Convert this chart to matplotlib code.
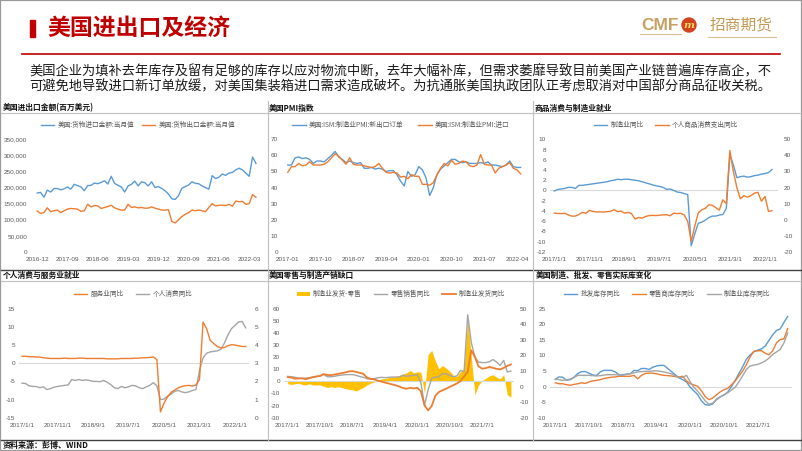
import matplotlib
matplotlib.use('Agg')
import matplotlib.pyplot as plt
from matplotlib.patches import Rectangle, Ellipse, Patch
from matplotlib.lines import Line2D
import numpy as np

plt.rcParams['font.family'] = ['Noto Sans CJK SC', 'DejaVu Sans']

# ---- data ----
p1_ticks = ['2016-12', '2017-09', '2018-06', '2019-03', '2019-12', '2020-09', '2021-06', '2022-03']
p1_import = [183, 185, 170, 192, 186, 197, 197, 193, 196, 202,
             195, 210, 206, 202, 190, 206, 207, 214, 212, 216,
             221, 211, 235, 213, 207, 202, 186, 205, 210, 220,
             205, 218, 215, 205, 218, 200, 203, 197, 190, 180,
             165, 163, 175, 198, 203, 208, 218, 213, 212, 205,
             200, 195, 237, 228, 232, 242, 238, 245, 247, 255,
             260, 255, 245, 235, 295, 275]
p1_export = [127, 120, 122, 137, 125, 128, 130, 122, 128, 133,
             135, 134, 133, 126, 128, 148, 140, 144, 143, 135,
             138, 141, 145, 137, 133, 130, 130, 148, 138, 140,
             137, 138, 136, 136, 140, 136, 133, 130, 130, 131,
             95, 90, 100, 110, 117, 122, 130, 128, 130, 128,
             125, 138, 150, 143, 145, 145, 144, 148, 142, 158,
             156, 157, 148, 150, 178, 170]

p2_ticks = ['2017-01', '2017-10', '2018-07', '2019-04', '2020-01', '2020-10', '2021-07', '2022-04']
p2_export_orders = [54, 54, 58.5, 59, 58, 58.5, 57.5, 55, 56.5, 56.5,
                    56, 58, 60, 62.5, 59, 57.5, 55.5, 56.5, 55.5, 55,
                    55.5, 52, 52, 52.5, 51.5, 52, 51.5, 50, 50.5, 50.5,
                    48, 44, 41, 50, 47, 48, 53, 51, 46, 35,
                    40, 48, 51.5, 53.5, 55.5, 57.5, 57.5, 56, 55.5, 56,
                    55, 55, 55, 55.5, 55, 56, 54, 54, 53.5, 53,
                    54, 56.5, 53, 52.5, 52.5]
p2_imports = [49.5, 53, 53, 55, 53.5, 54, 56, 54, 54, 54,
              54.5, 56, 58.5, 61, 59.5, 57, 54.5, 58.5, 54.5, 54,
              54, 53.5, 53, 52.5, 53, 55, 52, 49.5, 49, 49.5,
              49, 46.5, 47, 45.5, 48, 47, 47, 42, 42, 41.5,
              43, 48, 52, 55, 53.5, 57, 54.5, 55, 56.5, 56,
              53.5, 53, 54, 60.5, 54.5, 54, 54, 49, 52, 53,
              54, 55.5, 52, 51, 48.5]

p34_ticks = ['2017/1/1', '2017/11/1', '2018/9/1', '2019/7/1', '2020/5/1', '2021/3/1', '2022/1/1']
p3_mfg_emp = [-0.1, 0.2, 0.3, 0.4, 0.6, 0.6, 0.4, 1.0, 1.0, 1.1,
              1.2, 1.3, 1.4, 1.5, 1.6, 1.7, 1.9, 2.0, 2.2, 2.1,
              2.2, 2.2, 2.1, 2.0, 1.9, 1.7, 1.5, 1.3, 1.1, 0.9,
              0.8, 0.6, 0.2, 0.3, 0.0, -0.3, -0.4, -0.6, -0.8, -10.8,
              -8.5, -6.4, -6.2, -5.8, -5.3, -5.0, -5.0, -4.8, -4.7, -3.5,
              7.0, 5.0, 2.5, 2.7, 2.8, 2.6, 2.7, 2.9, 3.0, 3.2,
              3.3, 3.5, 4.1]
p3_goods_pce = [4.1, 3.9, 3.8, 4.0, 3.0, 2.2, 2.3, 3.2, 4.6, 4.0,
                5.8, 5.2, 4.8, 4.9, 4.8, 5.0, 5.2, 6.2, 5.0, 5.4,
                4.1, 4.6, 3.8, 0.4, 1.4, 1.0, 2.0, 2.6, 2.7, 2.6,
                2.8, 3.0, 3.1, 2.5, 4.1, 3.8, 4.0, 3.0, -1.0, -13.4,
                -4.0, 4.1, 6.2, 7.0, 9.3, 9.0, 7.5, 6.0, 12.4, 10.0,
                43.0, 30.0, 20.0, 13.0, 15.0, 14.0, 15.0, 16.5, 17.0, 11.5,
                14.5, 5.2, 5.6]

p4_services = [1.9, 1.9, 1.8, 1.8, 1.7, 1.7, 1.5, 1.4, 1.3, 1.3,
               1.3, 1.3, 1.4, 1.3, 1.3, 1.3, 1.4, 1.4, 1.3, 1.3,
               1.3, 1.3, 1.3, 1.3, 1.2, 1.2, 1.2, 1.2, 1.3, 1.3,
               1.3, 1.3, 1.4, 1.4, 1.5, 1.5, 1.6, 1.7, 1.0, -13.4,
               -11.0, -9.3, -8.0, -7.4, -6.8, -6.4, -6.2, -6.1, -6.3, -6.0,
               -4.5, 11.3, 9.5, 6.3, 5.4, 4.6, 4.2, 4.3, 4.8, 5.1,
               5.0, 4.8, 4.6, 4.6]
p4_consumption = [1.90, 1.88, 1.75, 1.72, 1.72, 1.65, 1.70, 1.55, 1.60, 1.68,
                  1.72, 1.75, 1.78, 1.80, 2.10, 2.05, 2.10, 2.05, 2.08, 2.05,
                  2.00, 2.00, 1.98, 2.05, 1.95, 1.82, 1.65, 1.60, 1.72, 1.65,
                  1.70, 1.78, 1.75, 1.65, 1.60, 1.70, 1.78, 1.93, 1.75, 1.00,
                  1.02, 1.19, 1.30, 1.45, 1.50, 1.42, 1.38, 1.42, 1.50, 1.55,
                  2.60, 3.30, 3.55, 3.62, 3.65, 3.68, 3.76, 4.10, 4.55, 4.90,
                  5.08, 5.27, 5.30, 4.95]

p56_ticks = ['2017/1/1', '2017/10/1', '2018/7/1', '2019/4/1', '2020/1/1', '2020/10/1', '2021/7/1']
p5_gap = [-2, -2.5, -2, -1.5, -2.5, -3, -2, -3, -3, -3,
          -4, -5, -4.5, -5, -4.5, -5, -6, -6.5, -7, -8,
          -6.5, -5, -3, -1.5, -0.5, 1, 2, 2.5, 3, 3.5,
          4, 5, 6, 7, 9, 7, 8, 7.5, -10, 22,
          25.6, 17, 10.5, 13, 11, 8.5, 5, 4, 8, 10,
          52, 20, -11, -3, 0.5, 2.5, 4.5, 5.5, 3.5, 2,
          5.5, -11, -13]
p5_retail = [4.1, 3.8, 3.4, 2.6, 2.4, 2.7, 3.0, 3.5, 4.0, 4.4,
             5.8, 3.8, 3.8, 4.2, 4.8, 5.2, 5.5, 5.6, 5.6, 5.0,
             4.0, 3.4, 2.2, 1.8, 2.2, 3.0, 3.3, 3.1, 3.3, 3.6,
             3.6, 3.6, 5.0, 4.2, 4.6, 5.0, 5.5, -1.0, -20.0, -7.0,
             2.5, 3.5, 4.0, 6.3, 6.2, 5.0, 3.8, 4.5, 9.0, 8.0,
             55.0, 32.0, 20.0, 16.0, 15.5, 15.5, 16.2, 18.0, 16.0, 13.2,
             17.3, 7.7, 8.5]
p5_shipments = [6.1, 5.8, 5.0, 5.2, 5.3, 4.7, 5.4, 6.0, 6.5, 6.8,
                8.0, 7.4, 7.4, 7.7, 8.2, 8.6, 9.1, 9.7, 9.9, 9.4,
                8.8, 8.2, 5.8, 5.0, 4.6, 3.8, 3.2, 2.6, 2.0, 1.4,
                0.8, 0.0, -0.9, -1.4, -0.8, -1.2, -0.8, -3.0, -12.0, -15.3,
                -12.5, -6.0, -3.5, -2.4, -1.4, -0.2, 0.9, 2.0, 3.5, 6.5,
                9.5, 23.3, 19.0, 13.0, 11.5, 11.8, 12.6, 12.0, 11.4, 11.0,
                12.0, 13.3, 14.2]

p6_wholesale = [2.3, 3.1, 3.0, 2.0, 2.2, 3.0, 4.2, 4.8, 4.8, 4.3,
                3.7, 3.6, 4.7, 5.2, 5.2, 5.2, 4.7, 3.8, 3.8, 4.0,
                4.1, 5.2, 5.1, 5.8, 5.8, 5.5, 6.2, 6.6, 6.8, 6.8,
                5.8, 4.8, 3.8, 2.8, 2.2, 1.5, -0.2, -1.4, -2.6, -4.6,
                -5.8, -6.0, -5.6, -4.0, -3.3, -2.7, -1.8, 0.0, 2.0, 4.2,
                6.4, 8.8, 10.2, 11.2, 11.7, 12.1, 13.0, 14.8, 16.6, 18.0,
                18.5, 20.6, 22.5]
p6_retailer = [1.2, 0.9, 0.9, 0.6, 0.4, 0.7, 0.9, 1.2, 1.0, 1.5,
               1.8, 2.0, 2.2, 2.6, 2.8, 3.0, 3.1, 3.3, 3.3, 3.3,
               3.3, 3.6, 2.5, 3.6, 4.2, 4.3, 4.3, 4.1, 3.8, 3.6,
               3.5, 3.4, 3.2, 3.1, 3.3, 1.8, 0.9, 0.5, 0.1, -1.4,
               -3.2, -4.2, -3.7, -2.7, -1.7, -1.0, -0.6, 0.6, 1.8, 3.4,
               5.0, 7.1, 9.6, 11.3, 11.5, 11.5, 10.7, 10.2, 11.5, 14.0,
               15.1, 15.3, 18.6]
p6_manufacturing = [2.5, 2.2, 2.0, 2.2, 2.4, 2.9, 3.6, 3.6, 3.6, 3.6,
                    3.5, 3.4, 3.5, 3.7, 3.8, 3.8, 3.8, 3.7, 3.6, 3.9,
                    4.1, 4.4, 4.7, 4.8, 4.9, 4.9, 5.0, 5.1, 4.9, 4.7,
                    4.4, 4.1, 3.4, 2.8, 3.0, 3.6, 1.5, -0.3, -1.5, -3.0,
                    -4.6, -5.7, -5.3, -4.3, -3.3, -2.6, -2.0, -1.1, -0.2, 1.5,
                    3.5, 5.5, 6.6, 6.9, 7.1, 7.6, 8.2, 9.1, 10.3, 11.1,
                    11.9, 14.0, 17.2]

body_lines = ['美国企业为填补去年库存及留有足够的库存以应对物流中断，去年大幅补库，但需求萎靡导致目前美国产业链普遍库存高企，不',
              '可避免地导致进口新订单放缓，对美国集装箱进口需求造成破坏。为抗通胀美国执政团队正考虑取消对中国部分商品征收关税。']

BLUE = '#5B9BD5'
ORANGE = '#ED7D31'
GRAY = '#A5A5A5'
GOLD = '#FFC000'
RED = '#C00000'
TICK = '#595959'

W, H = 802, 451
fig = plt.figure(figsize=(W / 100, H / 100), dpi=100)


def px_ax(l, t, r, b):
    return fig.add_axes([l / W, 1 - b / H, (r - l) / W, (b - t) / H])


def hline(y, x0, x1, color, lw):
    fig.add_artist(Line2D([x0 / W, x1 / W], [1 - y / H, 1 - y / H], color=color, lw=lw,
                          transform=fig.transFigure))


def vline(x, y0, y1, color, lw):
    fig.add_artist(Line2D([x / W, x / W], [1 - y0 / H, 1 - y1 / H], color=color, lw=lw,
                          transform=fig.transFigure))


def ftext(x, y, s, **kw):
    fig.text(x / W, 1 - y / H, s, **kw)


def style(ax, xlim, ylim, yticks, ylabels, xticks=None, xlabels=None, right=False):
    ax.set_xlim(*xlim)
    ax.set_ylim(*ylim)
    ax.set_yticks(yticks, labels=ylabels, fontfamily='Liberation Sans')
    if xticks is not None:
        ax.set_xticks(xticks, labels=xlabels, fontfamily='Liberation Sans')
    for s in ax.spines.values():
        s.set_visible(False)
    ax.tick_params(axis='both', length=0, labelsize=4.6, labelcolor=TICK)
    ax.tick_params(axis='x', pad=3.5)
    ax.tick_params(axis='y', pad=4 if right else 2.8)
    ax.patch.set_alpha(0)


def legend(ax, handles, labels, cx, cy, colsp):
    ax.legend(handles, labels, loc='center', bbox_to_anchor=(cx / W, 1 - cy / H),
              bbox_transform=fig.transFigure, ncol=len(handles), frameon=False,
              fontsize=4.8, labelcolor=TICK, handlelength=2.0, handletextpad=0.5,
              columnspacing=colsp, borderaxespad=0, borderpad=0)


def lh(c, lw=1.0):
    return Line2D([], [], color=c, lw=lw)


# ---- slide frame ----
fig.add_artist(Rectangle((0, 0), 1, 1, transform=fig.transFigure, fill=False, ec='#9A9A9A', lw=1.6))
fig.add_artist(Rectangle((30 / W, 1 - 37 / H), 5 / W, 17 / H, transform=fig.transFigure, color=RED))
ftext(47, 28, '美国进出口及经济', color=RED, fontsize=16.5, fontweight='bold', va='center', ha='left')
hline(54.3, 22, 780, RED, 1.2)
ftext(29.5, 70, body_lines[0], fontsize=9.55, color='#1a1a1a', va='center', ha='left')
ftext(29.5, 86, body_lines[1], fontsize=9.55, color='#1a1a1a', va='center', ha='left')

# logo
ftext(641, 25, 'CMF', color='#C9A063', fontsize=12.5, fontweight='bold', va='center', ha='left',
      family='Liberation Sans')
hline(33.5, 640, 681, '#D8C08F', 0.8)
fig.add_artist(Ellipse((689 / W, 1 - 25 / H), 14 / W, 14 / H, transform=fig.transFigure, color='#D2421E'))
ftext(689, 25.5, 'm', color='#FFD966', fontsize=7.5, fontweight='bold', style='italic',
      va='center', ha='center', family='DejaVu Serif')
ftext(710, 25, '招商期货', color='#C49A54', fontsize=11.3, va='center', ha='left')
hline(37, 708, 776, '#D8C08F', 0.8)

# panel separators
hline(112.5, 1, 801, '#BFBFBF', 0.8)
hline(269.5, 1, 801, '#404040', 1.0)
hline(281, 1, 801, '#BFBFBF', 0.8)
hline(439.5, 1, 801, '#404040', 1.0)
vline(267.5, 101, 439.5, '#BFBFBF', 0.8)
vline(532.5, 101, 439.5, '#BFBFBF', 0.8)

tkw = dict(fontsize=5.6, fontweight='bold', color='#111111', va='center', ha='left')
ftext(3, 108, '美国进出口金额(百万美元)', **tkw)
ftext(269, 108, '美国PMI指数', **tkw)
ftext(535, 108, '商品消费与制造业就业', **tkw)
ftext(3, 275.5, '个人消费与服务业就业', **tkw)
ftext(269, 275.5, '美国零售与制造产销缺口', **tkw)
ftext(536, 275.5, '美国制造、批发、零售实际库变化', **tkw)
ftext(3, 445.5, '资料来源：彭博、WIND', fontsize=5.8, fontweight='bold', color='#111111',
      va='center', ha='left')

TOP_T, TOP_B = 139.3, 251.9
BOT_T, BOT_B = 308.7, 417.7

# ---- panel 1 ----
ax = px_ax(31, TOP_T, 260, TOP_B)
x = np.arange(len(p1_import))
ax.axhline(0, color='#D9D9D9', lw=0.8)
ax.plot(x, np.array(p1_import) * 1000, color=BLUE, lw=1.0)
ax.plot(x, np.array(p1_export) * 1000, color=ORANGE, lw=1.0)
yt = list(range(0, 350001, 50000))
style(ax, (-1.84, (260 - 37.2) / 3.365 - 0.0), (0, 350000), yt, [f'{v:,}' for v in yt],
      list(range(0, 64, 9)), p1_ticks)
legend(ax, [lh(BLUE), lh(ORANGE)], ['美国:货物进口金额:当月值', '美国:货物出口金额:当月值'], 138, 125, 1.2)

# ---- panel 2 ----
ax = px_ax(282, TOP_T, 526, TOP_B)
x = np.arange(len(p2_export_orders))
ax.axhline(0, color='#D9D9D9', lw=0.8)
ax.plot(x, p2_export_orders, color=BLUE, lw=1.0)
ax.plot(x, p2_imports, color=ORANGE, lw=1.0)
yt = list(range(0, 71, 10))
style(ax, ((282 - 287.8) / 3.638, (526 - 287.8) / 3.638), (0, 70), yt, [str(v) for v in yt],
      list(range(0, 64, 9)), p2_ticks)
legend(ax, [lh(BLUE), lh(ORANGE)], ['美国:ISM:制造业PMI:新出口订单', '美国:ISM:制造业PMI:进口'], 401, 125, 2.2)

# ---- panel 3 ----
ax = px_ax(550, TOP_T, 778, TOP_B)
ax2 = ax.twinx()
x = np.arange(len(p3_mfg_emp))
xl = ((550 - 554.3) / 3.511, (778 - 554.3) / 3.511)
ax.axhline(0, color='#D9D9D9', lw=0.8)
ax.plot(x, p3_mfg_emp, color=BLUE, lw=1.0)
ax2.plot(x, p3_goods_pce, color=ORANGE, lw=1.0)
yt = list(range(-12, 11, 2))
style(ax, xl, (-12, 10), yt, [str(v) for v in yt], list(range(0, 61, 10)), p34_ticks)
yt2 = list(range(-20, 51, 10))
style(ax2, xl, (-20, 50), yt2, [str(v) for v in yt2], right=True)
legend(ax2, [lh(BLUE), lh(ORANGE)], ['制造业同比', '个人商品消费支出同比'], 666, 125, 1.8)

# ---- panel 4 ----
ax = px_ax(19, BOT_T, 249, BOT_B)
ax2 = ax.twinx()
x = np.arange(len(p4_services))
xl = ((19 - 22) / 3.55, (249 - 22) / 3.55)
ax.axhline(0, color='#D9D9D9', lw=0.8)
ax2.plot(x, p4_consumption, color=GRAY, lw=1.0)
ax.plot(x, p4_services, color=ORANGE, lw=1.0)
ax.set_zorder(ax2.get_zorder() + 1)
yt = list(range(-15, 16, 5))
style(ax, xl, (-15, 15), yt, [str(v) for v in yt], list(range(0, 61, 10)), p34_ticks)
yt2 = list(range(0, 7))
style(ax2, xl, (0, 6), yt2, [str(v) for v in yt2], right=True)
legend(ax, [lh(ORANGE), lh(GRAY)], ['服务业同比', '个人消费同比'], 133, 294.3, 1.8)

# ---- panel 5 ----
ax = px_ax(284, BOT_T, 514, BOT_B)
ax2 = ax.twinx()
x = np.arange(len(p5_gap))
xl = ((284 - 287.7) / 3.6, (514 - 287.7) / 3.6)
ax.fill_between(x, 0, p5_gap, color=GOLD, lw=0)
ax.axhline(0, color='#D9D9D9', lw=0.8)
ax.plot(x, p5_retail, color=GRAY, lw=1.0)
ax2.plot(x, p5_shipments, color=ORANGE, lw=1.3)
yt = list(range(-30, 61, 10))
style(ax, xl, (-30, 60), yt, [str(v) for v in yt], list(range(0, 55, 9)), p56_ticks)
yt2 = list(range(-20, 51, 10))
style(ax2, xl, (-20, 50), yt2, [str(v) for v in yt2], right=True)
legend(ax2, [Patch(facecolor=GOLD), lh(GRAY), lh(ORANGE, 1.3)],
       ['制造业发货-零售', '零售销售同比', '制造业发货同比'], 401, 294.3, 1.8)

# ---- panel 6 ----
ax = px_ax(550, BOT_T, 792, BOT_B)
x = np.arange(len(p6_wholesale))
ax.axhline(0, color='#D9D9D9', lw=0.8)
ax.plot(x, p6_wholesale, color=BLUE, lw=1.0)
ax.plot(x, p6_retailer, color=ORANGE, lw=1.0)
ax.plot(x, p6_manufacturing, color=GRAY, lw=1.0)
yt = list(range(-10, 26, 5))
style(ax, ((550 - 555.3) / 3.748, (792 - 555.3) / 3.748), (-10, 25), yt, [str(v) for v in yt],
      list(range(0, 55, 9)), p56_ticks)
legend(ax, [lh(BLUE), lh(ORANGE), lh(GRAY)], ['批发库存同比', '零售商库存同比', '制造业库存同比'],
       667, 294.3, 1.8)

fig.savefig('out.png', dpi=100)
